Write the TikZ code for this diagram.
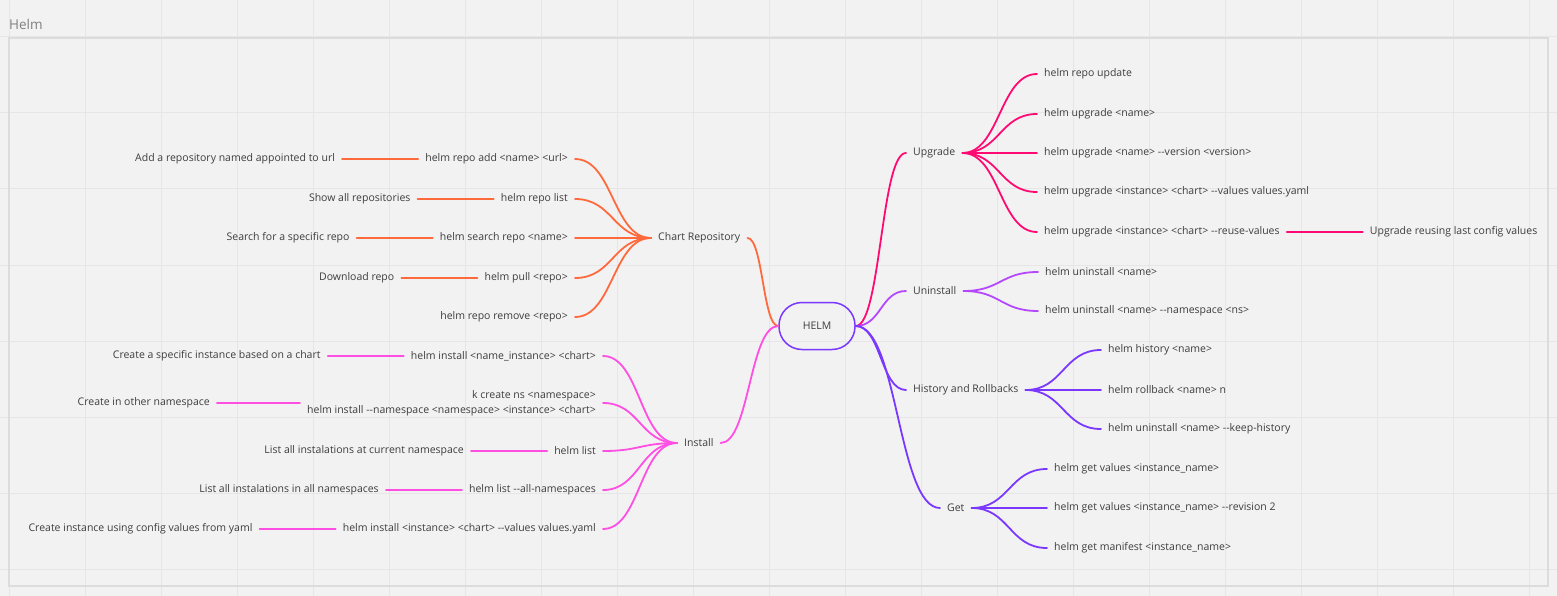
\documentclass[tikz,border=0pt]{standalone}
\usepackage{fontspec}
\setmainfont{Open Sans}
\usetikzlibrary{calc}

\definecolor{bg}{HTML}{F2F2F2}
\definecolor{gridc}{HTML}{E6E6E6}
\definecolor{framec}{HTML}{DCDCDC}
\definecolor{txtc}{HTML}{3D3D3D}
\definecolor{titlec}{HTML}{808080}
\definecolor{repoc}{HTML}{FF6A3D}
\definecolor{instc}{HTML}{FF4FE3}
\definecolor{upc}{HTML}{FF0A72}
\definecolor{unc}{HTML}{B548FF}
\definecolor{violc}{HTML}{7A38FF}

% two plain hyphens, kept apart so they are not joined into a dash
\newcommand\twohy{-\kern0pt-}

\begin{document}
\begin{tikzpicture}[x=1pt,y=-1pt,
  lbl/.style={font=\fontsize{10.5}{15}\selectfont, text=txtc, inner xsep=7pt, inner ysep=2pt},
  branch/.style={line width=1.8pt, line cap=round},
  mm/.style={to path={.. controls ($(\tikztostart)!0.5!(\tikztostart -| \tikztotarget)$)
      and ($(\tikztotarget)!0.5!(\tikztotarget -| \tikztostart)$) .. (\tikztotarget)}},
]
% canvas, grid and frame
\fill[bg] (0,0) rectangle (1557,596);
\useasboundingbox (0,0) rectangle (1557,596);
\foreach \x in {9,85,...,1557} \draw[gridc, line width=1pt] (\x,0) -- (\x,596);
\foreach \y in {37,113,...,596} \draw[gridc, line width=1pt] (0,\y) -- (1557,\y);
\draw[framec, line width=1.5pt] (9,38) rectangle (1548,586);
\node[anchor=west, inner sep=0, text=titlec, font=\fontsize{13.5}{16}\selectfont] (title) at (9,24) {Helm};

% central node
\node[draw=violc, line width=1.5pt, rounded corners=23pt, minimum width=76pt, minimum height=47pt,
      inner sep=0, text=txtc, font=\fontsize{10.5}{13}\selectfont] (helm) at (817,326) {HELM};

\begin{scope}[yshift=-1pt]
% ---- Chart Repository ----
\node[lbl, anchor=west] (cr) at (651,237) {Chart Repository};
\node[lbl, anchor=east] (c1) at (575,158) {helm repo add <name> <url>};
\node[lbl, anchor=east] (c2) at (575,198) {helm repo list};
\node[lbl, anchor=east] (c3) at (575,237) {helm search repo <name>};
\node[lbl, anchor=east] (c4) at (575,277) {helm pull <repo>};
\node[lbl, anchor=east] (c5) at (575,316) {helm repo remove <repo>};
\node[lbl, anchor=east] (g1) at ([xshift=-76pt]c1.west) {Add a repository named appointed to url};
\node[lbl, anchor=east] (g2) at ([xshift=-76pt]c2.west) {Show all repositories};
\node[lbl, anchor=east] (g3) at ([xshift=-76pt]c3.west) {Search for a specific repo};
\node[lbl, anchor=east] (g4) at ([xshift=-76pt]c4.west) {Download repo};

% ---- Install ----
\node[lbl, anchor=west] (ins) at (677,442) {Install};
\node[lbl, anchor=east] (i1) at (603,355) {helm install <name\_instance> <chart>};
\node[lbl, anchor=east, align=right] (i2) at (603,402) {k create ns <namespace>\\helm install \twohy namespace <namespace> <instance> <chart>};
\node[lbl, anchor=east] (i3) at (603,450) {helm list};
\node[lbl, anchor=east] (i4) at (603,489) {helm list \twohy all-namespaces};
\node[lbl, anchor=east] (i5) at (603,528) {helm install <instance> <chart> \twohy values values.yaml};
\node[lbl, anchor=east] (j1) at ([xshift=-76pt]i1.west) {Create a specific instance based on a chart};
\node[lbl, anchor=east] (j2) at ([xshift=-83pt]i2.west) {Create in other namespace};
\node[lbl, anchor=east] (j3) at ([xshift=-76pt]i3.west) {List all instalations at current namespace};
\node[lbl, anchor=east] (j4) at ([xshift=-76pt]i4.west) {List all instalations in all namespaces};
\node[lbl, anchor=east] (j5) at ([xshift=-76pt]i5.west) {Create instance using config values from yaml};

% ---- Upgrade ----
\node[lbl, anchor=west] (up) at (906,152) {Upgrade};
\node[lbl, anchor=west] (u1) at (1037,73) {helm repo update};
\node[lbl, anchor=west] (u2) at (1037,113) {helm upgrade <name>};
\node[lbl, anchor=west] (u3) at (1037,152) {helm upgrade <name> \twohy version <version>};
\node[lbl, anchor=west] (u4) at (1037,191) {helm upgrade <instance> <chart> \twohy values values.yaml};
\node[lbl, anchor=west] (u5) at (1037,231) {helm upgrade <instance> <chart> \twohy reuse-values};
\node[lbl, anchor=west] (v5) at ([xshift=76pt]u5.east) {Upgrade reusing last config values};

% ---- Uninstall ----
\node[lbl, anchor=west] (un) at (906,290) {Uninstall};
\node[lbl, anchor=west] (n1) at (1038,271) {helm uninstall <name>};
\node[lbl, anchor=west] (n2) at (1038,310) {helm uninstall <name> \twohy namespace <ns>};

% ---- History and Rollbacks ----
\node[lbl, anchor=west] (hr) at (906,389) {History and Rollbacks};
\node[lbl, anchor=west] (h1) at (1101,349) {helm history <name>};
\node[lbl, anchor=west] (h2) at (1101,389) {helm rollback <name> n};
\node[lbl, anchor=west] (h3) at (1101,428) {helm uninstall <name> \twohy keep-history};

% ---- Get ----
\node[lbl, anchor=west] (get) at (940,507) {Get};
\node[lbl, anchor=west] (e1) at (1047,468) {helm get values <instance\_name>};
\node[lbl, anchor=west] (e2) at (1047,507) {helm get values <instance\_name> \twohy revision 2};
\node[lbl, anchor=west] (e3) at (1047,547) {helm get manifest <instance\_name>};
\end{scope}

% connectors
\begin{scope}[branch, draw=repoc]
  \draw (cr.east) to[mm] (helm.west);
  \foreach \c in {c1,c2,c3,c4,c5} \draw (cr.west) to[mm] (\c.east);
  \foreach \c/\g in {c1/g1,c2/g2,c3/g3,c4/g4} \draw (\c.west) -- (\g.east);
\end{scope}
\begin{scope}[branch, draw=instc]
  \draw (ins.east) to[mm] (helm.west);
  \foreach \c in {i1,i2,i3,i4,i5} \draw (ins.west) to[mm] (\c.east);
  \foreach \c/\g in {i1/j1,i2/j2,i3/j3,i4/j4,i5/j5} \draw (\c.west) -- (\g.east);
\end{scope}
\begin{scope}[branch, draw=upc]
  \draw (helm.east) to[mm] (up.west);
  \foreach \c in {u1,u2,u3,u4,u5} \draw (up.east) to[mm] (\c.west);
  \draw (u5.east) -- (v5.west);
\end{scope}
\begin{scope}[branch, draw=unc]
  \draw (helm.east) to[mm] (un.west);
  \foreach \c in {n1,n2} \draw (un.east) to[mm] (\c.west);
\end{scope}
\begin{scope}[branch, draw=violc]
  \draw (helm.east) to[mm] (hr.west);
  \foreach \c in {h1,h2,h3} \draw (hr.east) to[mm] (\c.west);
  \draw (helm.east) to[mm] (get.west);
  \foreach \c in {e1,e2,e3} \draw (get.east) to[mm] (\c.west);
\end{scope}
\end{tikzpicture}
\end{document}
